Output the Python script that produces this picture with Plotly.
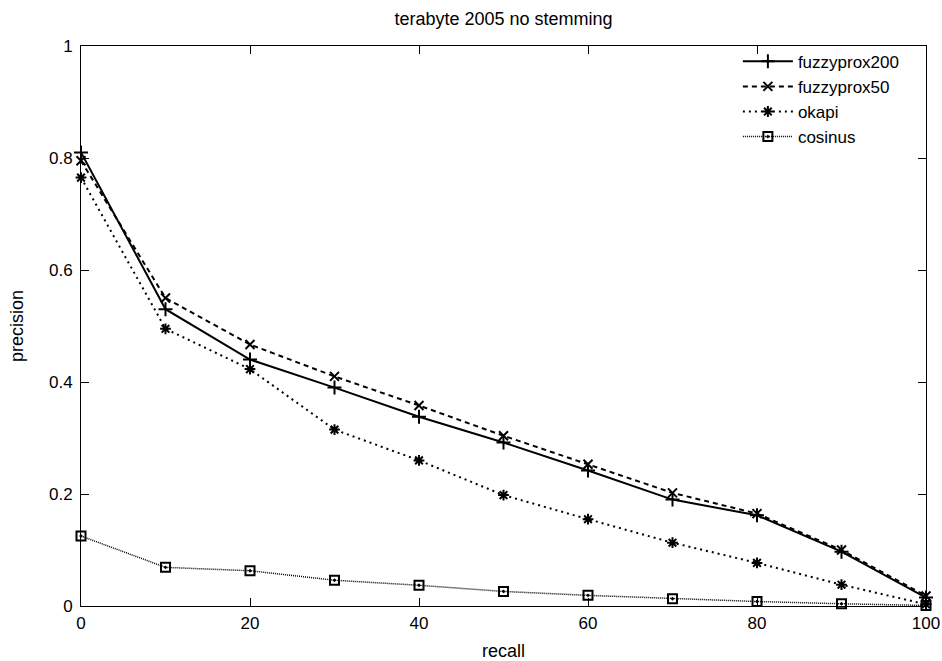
import plotly.graph_objects as go

recall = [0, 10, 20, 30, 40, 50, 60, 70, 80, 90, 100]
fuzzyprox200 = [0.810, 0.530, 0.440, 0.390, 0.338, 0.292, 0.242, 0.190, 0.162, 0.097, 0.015]
fuzzyprox50 = [0.795, 0.550, 0.467, 0.410, 0.358, 0.304, 0.253, 0.202, 0.165, 0.100, 0.018]
okapi = [0.765, 0.495, 0.423, 0.315, 0.260, 0.198, 0.155, 0.113, 0.077, 0.038, 0.003]
cosinus = [0.125, 0.069, 0.063, 0.046, 0.037, 0.026, 0.019, 0.013, 0.008, 0.004, 0.001]

x_ticks = [0, 20, 40, 60, 80, 100]
y_ticks = [0, 0.2, 0.4, 0.6, 0.8, 1]
y_tick_labels = ["0", "0.2", "0.4", "0.6", "0.8", "1"]

FONT = "Liberation Sans, Arial, sans-serif"

series = [
    ("fuzzyprox200", fuzzyprox200, "solid", "cross-thin-open", 2.0, 10),
    ("fuzzyprox50", fuzzyprox50, "5px,4px", "x-thin-open", 2.0, 9),
    ("okapi", okapi, "2px,4px", "asterisk-open", 2.0, 9),
    ("cosinus", cosinus, "1px,1px", "square-open-dot", 1.5, 9),
]

fig = go.Figure()
for name, vals, dash, sym, lw, ms in series:
    fig.add_trace(go.Scatter(
        x=recall, y=vals, name=name, mode="lines+markers",
        line=dict(color="black", width=lw, dash=dash),
        marker=dict(symbol=sym, size=ms, color="black",
                    line=dict(color="black", width=2)),
        cliponaxis=False,
    ))

axis_common = dict(
    showline=True, linecolor="black", linewidth=1, mirror="ticks",
    ticks="inside", ticklen=8, tickcolor="black", tickwidth=1,
    showgrid=False, zeroline=False, automargin=False,
    tickfont=dict(family=FONT, size=17, color="black"),
)

fig.update_layout(
    width=942, height=661,
    margin=dict(l=81, r=16, t=46, b=55),
    paper_bgcolor="white", plot_bgcolor="white",
    title=dict(text="terabyte 2005 no stemming", x=(81 + 926) / 2 / 942, xanchor="center",
               y=1 - 19 / 661, yanchor="middle",
               font=dict(family=FONT, size=18, color="black")),
    xaxis=dict(range=[0, 100], tickvals=x_ticks, ticklabelstandoff=2,
               title=dict(text="recall", font=dict(family=FONT, size=18, color="black"), standoff=15),
               **axis_common),
    yaxis=dict(range=[0, 1], tickvals=y_ticks, ticktext=y_tick_labels, ticklabelstandoff=4,
               title=dict(text="precision", font=dict(family=FONT, size=18, color="black"), standoff=20),
               **axis_common),
    legend=dict(x=0.975, y=1.004, xanchor="right", yanchor="top",
                bgcolor="rgba(0,0,0,0)", borderwidth=0,
                font=dict(family=FONT, size=17, color="black"),
                tracegroupgap=0, itemwidth=50),
    showlegend=True,
)

fig.write_html("out.html", config={"displayModeBar": False},
               post_script="document.body.style.margin='0';")
